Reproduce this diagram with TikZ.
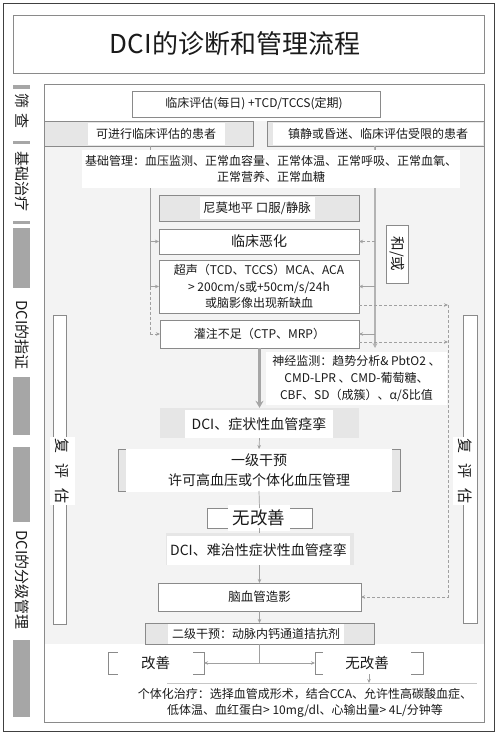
\documentclass[tikz,border=0pt]{standalone}
\usepackage{fontspec}
\setmainfont{Noto Sans CJK SC}
\usetikzlibrary{arrows.meta,calc}
\definecolor{bd}{HTML}{8A8A8A}
\definecolor{frame}{HTML}{404040}
\definecolor{barc}{HTML}{A6A6A6}
\definecolor{band}{HTML}{E6E6E6}
\definecolor{bgc}{HTML}{F3F3F3}
\definecolor{ln}{HTML}{A0A0A0}
\definecolor{txt}{HTML}{1A1A1A}
\newcommand\fsz[2]{\fontsize{#1pt}{#2pt}\selectfont}
\begin{document}
\begin{tikzpicture}[x=1pt,y=-1pt,
  box/.style={draw=bd, line width=0.8pt, fill=white, inner sep=0pt, outer sep=0pt},
  bandbox/.style={box, fill=band},
  lbl/.style={fill=white, inner sep=0pt, outer sep=0pt, text=txt, align=center},
  side/.style={text=txt, inner sep=0pt, rotate=-90, font=\fsz{15}{17}},
  sbar/.style={fill=barc},
  arr/.style={draw=ln, line width=0.7pt, -{Stealth[length=4pt,width=3.5pt]}},
  ln/.style={draw=ln, line width=0.7pt},
  dsh/.style={draw=ln, line width=0.7pt, dash pattern=on 3pt off 2pt},
]
\useasboundingbox (0,0) rectangle (498,733);
% frames
\draw[frame, line width=1pt] (3,4) rectangle (494,731);
\node[box, minimum width=471, minimum height=58] (titlebox) at (248.5,44) {};
\node[text=txt, font=\fsz{26}{30}] (title) at (235,44) {DCI的诊断和管理流程};
\fill[bgc] (44,121) rectangle (484,644);
\draw[bd, line width=0.8pt] (44,84) rectangle (484,722);

% sidebar
\fill[barc] (13,85) rectangle (30,89);
\fill[barc] (13,141) rectangle (30,144);
\fill[barc] (13,221) rectangle (30,224);
\fill[barc] (13,228) rectangle (30,288);
\fill[barc] (13,377) rectangle (30,435);
\fill[barc] (13,447) rectangle (30,522);
\fill[barc] (13,640) rectangle (30,717);
\node[side] (s1) at (22,111) {筛\hspace{5pt}查};
\node[side] (s2) at (22,181) {基础治疗};
\node[side] (s3) at (22,335) {DCI的指证};
\node[side] (s4) at (22,580) {DCI的分级管理};

% re-evaluation columns
\node[box, minimum width=13, minimum height=309] (reL) at (59.5,469.5) {};
\node[lbl, rotate=-90, minimum width=68, minimum height=25, font=\fsz{15}{17}] (reLt) at (62,471) {复\hspace{10pt}评\hspace{10pt}估};
\node[box, minimum width=14, minimum height=308] (reR) at (470,469) {};
\node[lbl, rotate=-90, minimum width=68, minimum height=24, font=\fsz{15}{17}] (reRt) at (465,471) {复\hspace{10pt}评\hspace{10pt}估};

% top
\node[box, minimum width=248, minimum height=26] (topb) at (256,104) {};
\node[lbl, font=\fsz{12}{14}] (topt) at (254,104) {临床评估(每日) +TCD/TCCS(定期)};
\node[bandbox, minimum width=209, minimum height=25] (lband) at (148.5,133.5) {};
\node[lbl, minimum width=137, minimum height=22, font=\fsz{12}{14}] (lbandt) at (156,134) {可进行临床评估的患者};
\node[bandbox, minimum width=217, minimum height=25] (rband) at (375.5,133.5) {};
\node[lbl, minimum width=210, minimum height=22, font=\fsz{12}{14}] (rbandt) at (378,134) {镇静或昏迷、临床评估受限的患者};

% main column
\node[bandbox, minimum width=200, minimum height=26] (nimo) at (259,208) {};
\node[lbl, minimum width=115, minimum height=22, font=\fsz{12.5}{14}] (nimot) at (257,208) {尼莫地平 口服/静脉};
\node[box, minimum width=200, minimum height=25, font=\fsz{14}{16}, text=txt] (worse) at (259,241.5) {临床恶化};
\node[box, minimum width=200, minimum height=53, font=\fsz{12}{16.5}, text=txt, align=center] (ultra) at (259,286.5) {超声（TCD、TCCS）MCA、ACA\\> 200cm/s或+50cm/s/24h\\或脑影像出现新缺血};
\node[box, minimum width=199, minimum height=28, font=\fsz{12}{14}, text=txt] (perf) at (259.5,334) {灌注不足（CTP、MRP）};
\node[lbl, minimum width=181, minimum height=53, font=\fsz{12}{17}] (neuro) at (356.5,378.5) {神经监测：趋势分析\& PbtO2 、\\CMD-LPR 、CMD-葡萄糖、\\CBF、SD（成簇）、α/δ比值};
\node[fill=band, inner sep=0pt, minimum width=199, minimum height=30] (dci1) at (259.5,423) {};
\node[lbl, minimum width=148, minimum height=28, font=\fsz{14}{16}] (dci1t) at (259,424) {DCI、症状性血管痉挛};
\node[bandbox, minimum width=282, minimum height=42] (int1) at (259,470) {};
\node[lbl, minimum width=266, minimum height=43, font=\fsz{14}{20}] (int1t) at (259,470) {一级干预\\许可高血压或个体化血压管理};
\node[box, minimum width=105, minimum height=20] (nimp1) at (259.5,518) {};
\node[lbl, minimum width=62, minimum height=26, font=\fsz{17.5}{20}] (nimp1t) at (259,518) {无改善};
\node[fill=band, inner sep=0pt, minimum width=188, minimum height=32] (dci2) at (260,549) {};
\node[lbl, minimum width=183, minimum height=29, font=\fsz{14}{16}] (dci2t) at (258.5,550.5) {DCI、难治性症状性血管痉挛};
\node[box, minimum width=203, minimum height=28, font=\fsz{12.5}{14}, text=txt] (angio) at (259.5,597) {脑血管造影};
\node[bandbox, minimum width=229, minimum height=21] (int2) at (259.5,633.5) {};
\node[lbl, minimum width=176, minimum height=20, font=\fsz{12}{14}] (int2t) at (256,634) {二级干预：动脉内钙通道拮抗剂};
\node[box, minimum width=96, minimum height=22] (imp) at (156,663) {};
\node[lbl, minimum width=75, minimum height=26, font=\fsz{14.5}{16}] (impt) at (155.5,663) {改善};
\node[box, minimum width=108, minimum height=22] (nimp2) at (369,663) {};
\node[lbl, minimum width=88, minimum height=26, font=\fsz{14.5}{16}] (nimp2t) at (367,663) {无改善};
\coordinate (treattop) at (305,683);
\draw[draw=ln!60, line width=0.6pt] (167,683) -- (477,683);
\node[lbl, font=\fsz{12}{16}] (treat) at (305,703) {个体化治疗：选择血管成形术，结合CCA、允许性高碳酸血症、\\低体温、血红蛋白> 10mg/dl、心输出量> 4L/分钟等};

% side columns and connectors
\coordinate (lcol) at (150,300);
\coordinate (rcol) at (375,300);
\coordinate (rd) at (448,400);
\draw[ln] (lband.south -| lcol) -- (lcol |- ultra.west);
\draw[dsh] (lcol |- ultra.west) -- (lcol |- perf.west);
\draw[arr] (lcol |- worse.west) -- (worse.west);
\draw[arr] (lcol |- ultra.west) -- (ultra.west);
\draw[arr, dash pattern=on 3pt off 2pt] (lcol |- perf.west) -- (perf.west);
\draw[draw=ln!80, line width=1.6pt, -{Stealth[length=5pt,width=5pt]}] (rband.south -| rcol) -- ([yshift=4pt]neuro.north -| rcol);
\draw[arr, dash pattern=on 3pt off 2pt] (rcol |- worse.east) -- (worse.east);
\draw[arr] (rcol |- ultra.east) -- (ultra.east);
\draw[arr] (rcol |- perf.east) -- (perf.east);
\draw[arr, dash pattern=on 3pt off 2pt] ([yshift=8pt]ultra.south east) -- ([yshift=8pt]ultra.south east -| rd);
\draw[arr, dash pattern=on 3pt off 2pt] ([yshift=6pt]perf.south east) -- ([yshift=6pt]perf.south east -| rd);
\draw[arr, dash pattern=on 3pt off 2pt] ([yshift=8pt]ultra.south east -| rd) -- (rd |- angio.east) -- (angio.east);
\node[box, minimum width=22, minimum height=58] (andor) at (397,254) {};
\node[lbl, rotate=-90, minimum width=40, minimum height=18, font=\fsz{14.5}{16}] (andort) at (397,254) {和/或};

% basic management block (over the column lines)
\node[lbl, minimum width=378, minimum height=38, font=\fsz{12}{15.5}] (basic) at (271,169) {基础管理：血压监测、正常血容量、正常体温、正常呼吸、正常血氧、\\正常营养、正常血糖};
\draw[ln] (lband.south -| lcol) -- (lcol |- basic.north);
\draw[ln] (rband.south -| rcol) -- (rcol |- basic.north);

% flow
\draw[draw=barc, line width=3pt, -{Stealth[length=7pt,width=8pt]}] (perf.south) -- (dci1.north);
\draw[arr] (dci1.south) -- (int1.north);
\draw[ln] (int1.south) -- (nimp1.north);
\draw[ln] (nimp1.south) -- (nimp1.south |- dci2.north);
\draw[arr] (angio.north |- dci2.south) -- (angio.north);
\draw[arr] (angio.south) -- (int2.north);
\coordinate (split) at (int2.south |- imp.east);
\draw[ln] (int2.south) -- (split);
\draw[arr] (split) -- (imp.east);
\draw[arr] (split) -- (nimp2.west);
\draw[arr] (nimp2.south) -- (nimp2.south |- treattop);
\end{tikzpicture}
\end{document}
